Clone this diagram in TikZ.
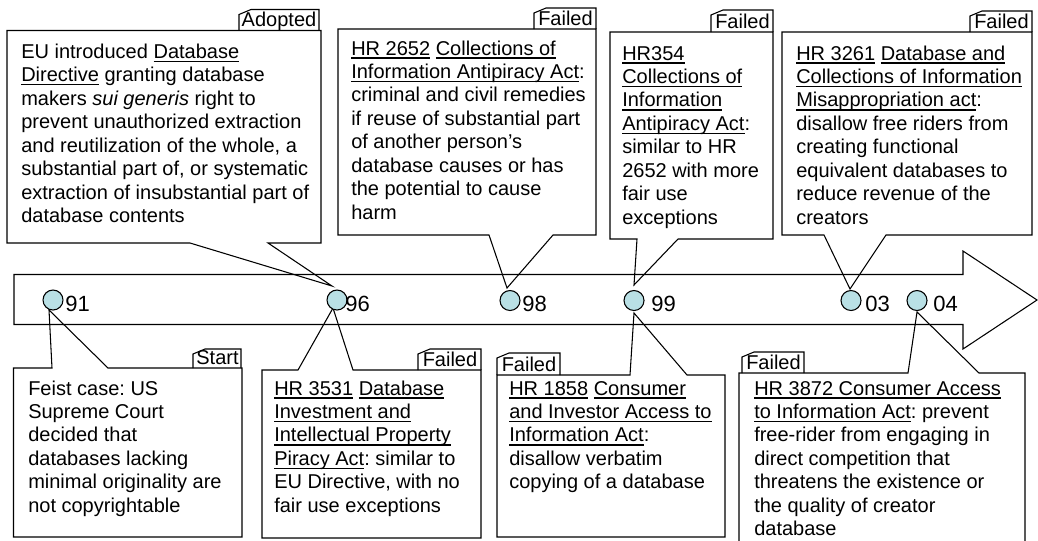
\documentclass[tikz,border=0pt]{standalone}
\usepackage{fontspec}
\setmainfont{Liberation Sans}
\frenchspacing
\newcommand\ulx[1]{\setbox0\hbox{#1}\rlap{\rule[-2.7pt]{\wd0}{0.9pt}}\box0\relax}
\newcommand\txtlines[1]{\begin{tabular}[t]{@{}l@{}}#1\end{tabular}}
\newcommand\tabshape[4]{\draw[ln] (#1,#4) -- (#1,#2+5) -- (#1+12,#2) -- (#3,#2) -- (#3,#4);}
\definecolor{dotblue}{RGB}{185,224,229}
\tikzset{
  ln/.style={draw=black, line width=0.8pt, line join=miter},
  txt/.style={anchor=base west, inner sep=0pt, font=\fontsize{15pt}{17.6pt}\selectfont},
  tabt/.style={anchor=base, inner sep=0pt, font=\fontsize{15pt}{17.6pt}\selectfont},
  yr/.style={anchor=base west, inner sep=0pt, font=\fontsize{16.5pt}{18pt}\selectfont},
  dot/.style={circle, draw=black, line width=0.8pt, fill=dotblue, minimum size=15pt, inner sep=0pt}
}
\begin{document}
\begin{tikzpicture}[x=0.75pt, y=-0.75pt]
\useasboundingbox (0,0) rectangle (1038,540);
% timeline arrow
\draw[ln, fill=white] (14,274.5) -- (963,274.5) -- (963,251) -- (1037,300) -- (963,349) -- (963,324.5) -- (14,324.5) -- cycle;
% tail tips
\coordinate (pEU) at (332,286);
\coordinate (p2652) at (507,288);
\coordinate (p354) at (634,285);
\coordinate (p3261) at (850,289);
\coordinate (pFeist) at (49,310);
\coordinate (p3531) at (333,308);
\coordinate (p1858) at (634,313);
\coordinate (p3872) at (917,312);
% top callouts
\draw[ln] (7,30.5) -- (321,30.5) -- (321,243) -- (268,243) -- (pEU) -- (190,243) -- (7,243) -- cycle;
\draw[ln] (338,29) -- (596,29) -- (596,235) -- (553,235) -- (p2652) -- (489,235) -- (338,235) -- cycle;
\draw[ln] (610,32) -- (773,32) -- (773,239) -- (678,239) -- (p354) -- (637,239) -- (610,239) -- cycle;
\draw[ln] (782,32) -- (1032,32) -- (1032,235) -- (886,235) -- (p3261) -- (824,235) -- (782,235) -- cycle;
% bottom callouts
\draw[ln] (13.5,368) -- (52,368) -- (pFeist) -- (108,368) -- (242,368) -- (242,537) -- (13.5,537) -- cycle;
\draw[ln] (262,370) -- (298,370) -- (p3531) -- (353,370) -- (481,370) -- (481,538) -- (262,538) -- cycle;
\draw[ln] (497,375) -- (630,375) -- (p1858) -- (687,375) -- (725,375) -- (725,537) -- (497,537) -- cycle;
\draw[ln] (739,541) -- (739,373) -- (908,373) -- (p3872) -- (979,373) -- (1025,373) -- (1025,541);
% tabs
\tabshape{239}{9.5}{319}{30.5}
\tabshape{534}{8}{596}{29}
\tabshape{711}{10}{773}{32}
\tabshape{970}{11}{1032}{32}
\tabshape{193}{349}{241}{368}
\tabshape{418}{349}{481}{370}
\tabshape{497}{353}{560}{375}
\tabshape{742}{352}{804}{373}
\node[tabt] (tA) at (279,26.5) {Adopted};
\node[tabt] (tF1) at (565.5,25) {Failed};
\node[tabt] (tF2) at (742.5,28) {Failed};
\node[tabt] (tF3) at (1001.5,28) {Failed};
\node[tabt] (tS) at (217.5,364) {Start};
\node[tabt] (tF4) at (450,366) {Failed};
\node[tabt] (tF5) at (529,371) {Failed};
\node[tabt] (tF6) at (773.5,369) {Failed};
% circles and years
\node[dot] (c91) at (53,300) {};
\node[dot] (c96) at (337,300) {};
\node[dot] (c98) at (510,300.5) {};
\node[dot] (c99) at (634,300.5) {};
\node[dot] (c03) at (851,300.5) {};
\node[dot] (c04) at (917,300.5) {};
\node[yr] (y91) at (65,311.5) {91};
\node[yr] (y96) at (345,311.5) {96};
\node[yr] (y98) at (522,311.5) {98};
\node[yr] (y99) at (651,311.5) {99};
\node[yr] (y03) at (865,311.5) {03};
\node[yr] (y04) at (933,311.5) {04};
% texts
\node[txt] (tEU) at (21,58.3) {\txtlines{EU introduced \ulx{Database}\\
\ulx{Directive} granting database\\
makers \textit{sui generis} right to\\
prevent unauthorized extraction\\
and reutilization of the whole, a\\
substantial part of, or systematic\\
extraction of insubstantial part of\\
database contents}};
\node[txt] (t2652) at (351,55) {\txtlines{\ulx{HR 2652} \ulx{Collections of}\\
\ulx{Information Antipiracy Act}:\\
criminal and civil remedies\\
if reuse of substantial part\\
of another person’s\\
database causes or has\\
the potential to cause\\
harm}};
\node[txt] (t354) at (622,60) {\txtlines{\ulx{HR354}\\
\ulx{Collections of}\\
\ulx{Information}\\
\ulx{Antipiracy Act}:\\
similar to HR\\
2652 with more\\
fair use\\
exceptions}};
\node[txt] (t3261) at (796,60) {\txtlines{\ulx{HR 3261} \ulx{Database and}\\
\ulx{Collections of Information}\\
\ulx{Misappropriation act}:\\
disallow free riders from\\
creating functional\\
equivalent databases to\\
reduce revenue of the\\
creators}};
\node[txt] (tFeist) at (28,395) {\txtlines{Feist case: US\\
Supreme Court\\
decided that\\
databases lacking\\
minimal originality are\\
not copyrightable}};
\node[txt] (t3531) at (274,395) {\txtlines{\ulx{HR 3531} \ulx{Database}\\
\ulx{Investment and}\\
\ulx{Intellectual Property}\\
\ulx{Piracy Act}: similar to\\
EU Directive, with no\\
fair use exceptions}};
\node[txt] (t1858) at (509,395) {\txtlines{\ulx{HR 1858} \ulx{Consumer}\\
\ulx{and Investor Access to}\\
\ulx{Information Act}:\\
disallow verbatim\\
copying of a database}};
\node[txt] (t3872) at (754,395) {\txtlines{\ulx{HR 3872 Consumer Access}\\
\ulx{to Information Act}: prevent\\
free-rider from engaging in\\
direct competition that\\
threatens the existence or\\
the quality of creator\\
database}};
\end{tikzpicture}
\end{document}
